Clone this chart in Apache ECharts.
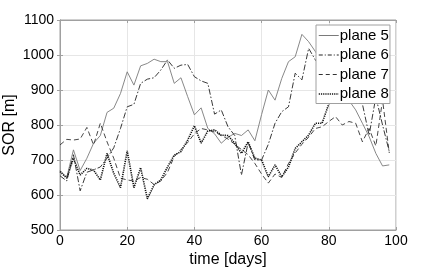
<!DOCTYPE html>
<html><head><meta charset="utf-8">
<script src="https://cdn.jsdelivr.net/npm/echarts@6/dist/echarts.min.js"></script>
<style>html,body{margin:0;padding:0;background:#fff}#c{width:436px;height:273px}</style>
</head><body><div id="c"></div>
<script>
const days = [0,2,4,6,8,10,12,14,16,18,20,22,24,26,28,30,32,34,36,38,40,42,44,46,48,50,52,54,56,58,60,62,64,66,68,70,72,74,76,78,80,82,84,86,88,90,92,94,96,98];
const plane5 = [670,650,729,670,705,748,770,836,848,890,952,914,969,976,988,981,981,919,935,881,829,849,790,775,748,765,776,770,786,755,830,900,871,933,981,995,1059,1038,1010,980,950,920,900,870,843,805,767,719,683,686];
const plane6 = [655,640,715,612,665,672,680,705,735,790,852,859,919,931,935,957,986,962,971,973,938,926,919,831,843,795,770,657,750,700,700,745,805,838,852,948,929,1019,986,960,930,905,890,880,870,860,771,880,800,724];
const plane7 = [743,759,757,760,793,743,805,752,705,648,643,640,650,645,630,640,665,710,730,750,775,790,786,780,770,760,745,730,715,690,660,634,660,650,690,720,745,765,790,795,810,824,800,810,805,752,790,740,871,720];
const plane8 = [667,648,705,657,676,671,643,719,662,621,726,621,678,589,629,643,680,714,724,757,798,748,783,786,771,770,748,719,752,705,700,652,686,652,680,733,752,771,805,805,860,900,940,null,null,null,null,null,null,null];
const names = ['plane 5','plane 6','plane 7','plane 8'];

const pairs = v => days.map((d,i)=>[d,v[i]]);
const font = 'Liberation Sans';
const styles = [
  {color:'#7a7a7a',width:0.9,type:'solid'},
  {color:'#222',width:0.9,type:[6,2,1.5,2]},
  {color:'#333',width:0.9,type:[5,3]},
  {color:'#111',width:1.6,type:[1.2,1]}
];
const legendStyles = [
  {color:'#7a7a7a',width:1,type:'solid'},
  {color:'#222',width:1,type:[4,2,1,2]},
  {color:'#333',width:1,type:[4,3]},
  {color:'#111',width:1.5,type:[1.2,1]}
];
const chart = echarts.init(document.getElementById('c'), null, {renderer:'canvas'});
const axisCommon = {
  axisLine:{show:true,lineStyle:{color:'#a0a0a0',width:1}},
  axisTick:{show:true,inside:true,length:3,lineStyle:{color:'#a0a0a0'}},
};
const seriesData = [plane5, plane6, plane7, plane8];
chart.setOption({
  animation:false,
  backgroundColor:'#fff',
  grid:{left:60,right:40,top:20,bottom:43,show:true,borderColor:'#a0a0a0',borderWidth:1,
        containLabel:false,outerBoundsMode:'none'},
  legend:{
    orient:'vertical', left:316, top:25, backgroundColor:'#fff',
    borderColor:'#a0a0a0', borderWidth:1, padding:[3,1,2,2],
    itemWidth:20, itemHeight:10, itemGap:4.5,
    itemStyle:{opacity:0},
    textStyle:{fontFamily:font,fontSize:15,color:'#000',padding:[0,0,0,-4]},
    data:names.map((n,i)=>({name:n,lineStyle:legendStyles[i],itemStyle:{opacity:0}}))
  },
  xAxis:[{
    type:'value', min:0, max:100, interval:20,
    name:'time [days]', nameLocation:'middle', nameGap:22, nameMoveOverlap:false,
    nameTextStyle:{fontFamily:font,fontSize:16,color:'#000'},
    axisLabel:{fontFamily:font,fontSize:14,color:'#000',margin:4,formatter:v=>String(v)},
    splitLine:{show:true,lineStyle:{color:'#e6e6e6',width:1}},
    ...axisCommon
  },{
    type:'value', min:0, max:100, interval:20, position:'top',
    axisLabel:{show:false}, splitLine:{show:false}, ...axisCommon
  }],
  yAxis:[{
    type:'value', min:500, max:1100, interval:100,
    name:'SOR [m]', nameLocation:'middle', nameGap:42, nameMoveOverlap:false,
    nameTextStyle:{fontFamily:font,fontSize:16,color:'#000'},
    axisLabel:{fontFamily:font,fontSize:14,color:'#000',margin:6,formatter:v=>String(v)},
    splitLine:{show:true,lineStyle:{color:'#e6e6e6',width:1}},
    ...axisCommon
  },{
    type:'value', min:500, max:1100, interval:100, position:'right',
    axisLabel:{show:false}, splitLine:{show:false}, ...axisCommon
  }],
  series:names.map((n,i)=>({
    name:n,type:'line',symbol:'none',data:pairs(seriesData[i]),connectNulls:false,
    lineStyle:styles[i],itemStyle:{color:styles[i].color}
  }))
});
</script></body></html>
